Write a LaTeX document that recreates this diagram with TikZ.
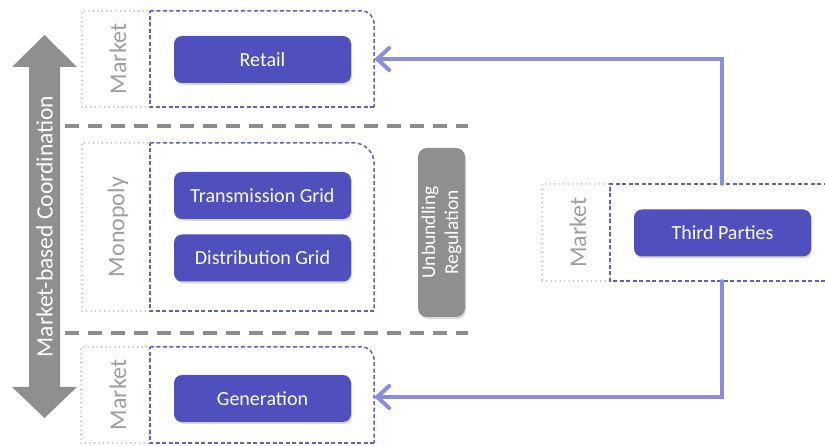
\documentclass[tikz,border=0pt]{standalone}
\usepackage{fontspec}
\setmainfont{Carlito}
\usetikzlibrary{arrows.meta,shadows}
\definecolor{unitblue}{RGB}{79,79,190}
\definecolor{linkblue}{RGB}{140,140,222}
\definecolor{grpblue}{RGB}{95,95,205}
\definecolor{sepgray}{RGB}{140,140,140}
\definecolor{lblgray}{RGB}{158,158,158}
\definecolor{boxgray}{RGB}{143,143,143}

\tikzset{
  unit/.style={fill=unitblue, text=white, rounded corners=8pt, minimum width=177pt, minimum height=47pt,
    font=\fontsize{20}{24}\selectfont,
    drop shadow={shadow xshift=1pt, shadow yshift=-2pt, opacity=0.3}},
  grp/.style={inner sep=0pt, minimum width=224pt},
  grpline/.style={draw=grpblue, line width=1.5pt, dash pattern=on 4pt off 2.5pt},
  side/.style={draw=lblgray, line width=1.5pt, dash pattern=on 0pt off 4.5pt, line cap=round,
    inner sep=0pt, minimum width=68pt},
  sidelabel/.style={rotate=90, text=lblgray, font=\fontsize{24}{28}\selectfont},
  sep/.style={draw=sepgray, line width=4pt, dash pattern=on 14pt off 9pt},
  link/.style={draw=linkblue, line width=4pt, line cap=round,
    -{Straight Barb[length=12pt,width=22pt,line cap=round]}}
}

\begin{document}
\begin{tikzpicture}[x=1pt,y=-1pt]
\clip (0,0) rectangle (825,446);

% market-based coordination arrow
\fill[boxgray] (44.5,35) -- (77,67) -- (60,67) -- (60,387) -- (77,387) -- (44.5,418)
  -- (12,387) -- (29,387) -- (29,67) -- (12,67) -- cycle;
\node[rotate=90, text=white, font=\fontsize{23.5}{28}\selectfont] (coordlbl) at (44.5,226.5) {Market-based Coordination};

\draw[sep] (65,126) -- (468,126);
\draw[sep] (65,333) -- (468,333);

% retail
\node[side, minimum height=96pt] (retailside) at (116,59) {};
\node[grp, minimum height=96pt] (retailgrp) at (262,59) {};
\draw[grpline, rounded corners=13pt] (retailgrp.north west) -- (retailgrp.north east) -- (retailgrp.south east);
\draw[grpline] (retailgrp.south east) -- (retailgrp.south west) -- (retailgrp.north west);
\node[sidelabel] (retaillbl) at (118,59) {Market};
\node[unit] (retail) at (262.5,59.5) {Retail};

% grids
\node[side, minimum height=168pt] (gridside) at (116,227) {};
\node[grp, minimum height=168pt] (gridgrp) at (262,227) {};
\draw[grpline, rounded corners=21pt] (gridgrp.north west) -- (gridgrp.north east) -- (gridgrp.south east);
\draw[grpline] (gridgrp.south east) -- (gridgrp.south west) -- (gridgrp.north west);
\node[sidelabel] (gridlbl) at (118,227) {Monopoly};
\node[unit] (trans) at (262.5,195.5) {Transmission Grid};
\node[unit] (dist) at (262.5,258) {Distribution Grid};

\node[rotate=90, fill=boxgray, text=white, rounded corners=9pt, minimum width=169pt, minimum height=47pt,
  align=center, font=\fontsize{19.5}{23}\selectfont,
  drop shadow={shadow xshift=1pt, shadow yshift=-2pt, opacity=0.3}] (unbund) at (441.5,232.5) {Unbundling\\Regulation};

% generation
\node[side, minimum height=96pt] (genside) at (115,395) {};
\node[grp, minimum height=96pt] (gengrp) at (262,395) {};
\draw[grpline, rounded corners=13pt] (gengrp.north west) -- (gengrp.north east) -- (gengrp.south east);
\draw[grpline] (gengrp.south east) -- (gengrp.south west) -- (gengrp.north west);
\node[sidelabel] (genlbl) at (118,395) {Market};
\node[unit] (gen) at (262.5,398.5) {Generation};

% third parties
\node[side, minimum height=97pt] (tpside) at (576,232.5) {};
\node[grp, minimum height=97pt] (tpgrp) at (722,232.5) {};
\draw[grpline] (tpgrp.north east) -- (tpgrp.north west) -- (tpgrp.south west) -- (tpgrp.south east);
\node[sidelabel] (tplbl) at (578,232.5) {Market};
\node[unit] (tp) at (722.5,233) {Third Parties};

\draw[link] (tpgrp.north) |- (retailgrp.east);
\draw[link] (tpgrp.south) |- ([yshift=-2pt]gengrp.east);
\end{tikzpicture}
\end{document}
